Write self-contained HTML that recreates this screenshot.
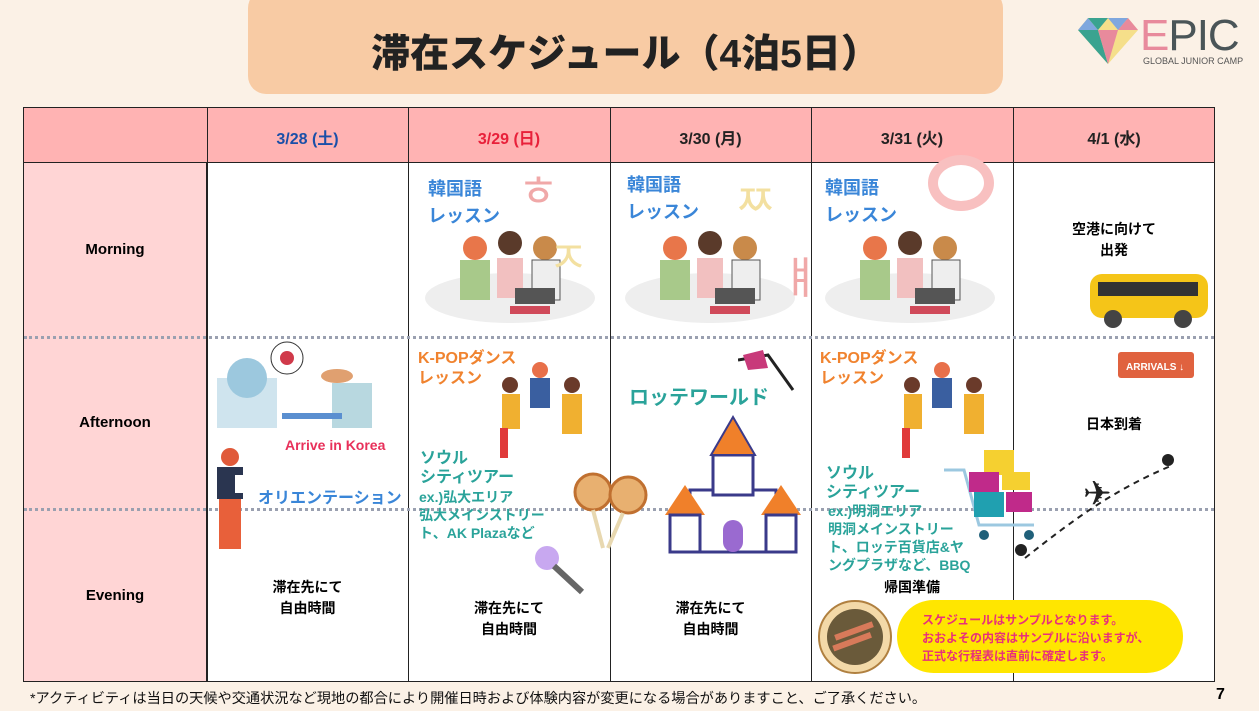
<!DOCTYPE html>
<html><head><meta charset="utf-8"><style>
*{margin:0;padding:0;box-sizing:border-box}
body{width:1259px;height:711px;background:#fbf1e6;position:relative;overflow:hidden;font-family:"Liberation Sans","Noto Sans CJK JP",sans-serif;font-weight:bold}
.a{position:absolute;white-space:nowrap}
.c{text-align:center}
.blue{color:#3a86d8}.or{color:#f0832f}.tl{color:#2aa39a}
</style></head><body>
<div class="a" style="left:248px;top:-10px;width:755px;height:104px;background:#f8cba4;border-radius:18px"></div>
<div class="a c" style="left:248px;top:23px;width:755px;font-size:39px;color:#222;font-weight:900">滞在スケジュール（4泊5日）</div>
<svg class="a" style="left:1078px;top:18px" width="60" height="46" viewBox="0 0 60 46">
<polygon points="0,12 10,0 50,0 60,12 30,46" fill="#f5df8a"/>
<polygon points="0,12 10,0 20,12" fill="#7fa7de"/><polygon points="40,12 50,0 60,12" fill="#e88a9c"/>
<polygon points="10,0 30,0 20,12" fill="#3aa390"/><polygon points="30,0 50,0 40,12" fill="#7fa7de"/>
<polygon points="0,12 20,12 30,46" fill="#3aa390"/><polygon points="20,12 40,12 30,46" fill="#e88a9c"/>
</svg>
<div class="a" style="left:1140px;top:12px;font-size:44px;font-weight:normal;line-height:48px;letter-spacing:-1px"><span style="color:#e88a9c">E</span><span style="color:#4a5558">PIC</span></div>
<div class="a" style="left:1143px;top:56px;font-size:9px;font-weight:normal;color:#555">GLOBAL JUNIOR CAMP</div>

<div class="a" style="left:23px;top:107px;width:1192px;height:575px;background:#fff;border:1px solid #222"></div>
<div class="a" style="left:23px;top:107px;width:1192px;height:56px;background:#ffb3b3;border:1px solid #222"></div>
<div class="a" style="left:23px;top:163px;width:184px;height:519px;background:#ffd5d5;border:1px solid #222;border-top:none"></div>
<div class="a" style="left:207px;top:107px;width:1px;height:575px;background:#222"></div>
<div class="a" style="left:408px;top:107px;width:1px;height:575px;background:#222"></div>
<div class="a" style="left:610px;top:107px;width:1px;height:575px;background:#222"></div>
<div class="a" style="left:811px;top:107px;width:1px;height:575px;background:#222"></div>
<div class="a" style="left:1013px;top:107px;width:1px;height:575px;background:#222"></div>
<div class="a" style="left:24px;top:336px;width:1190px;border-top:3px dotted #9aa0b0"></div>
<div class="a" style="left:24px;top:508px;width:1190px;border-top:3px dotted #9aa0b0"></div>

<div class="a c" style="left:207px;top:125px;width:201px;font-size:16px;color:#1a4fa8">3/28 (土)</div>
<div class="a c" style="left:408px;top:125px;width:202px;font-size:16px;color:#e8203a">3/29 (日)</div>
<div class="a c" style="left:610px;top:125px;width:201px;font-size:16px;color:#222">3/30 (月)</div>
<div class="a c" style="left:811px;top:125px;width:202px;font-size:16px;color:#222">3/31 (火)</div>
<div class="a c" style="left:1013px;top:125px;width:202px;font-size:16px;color:#222">4/1 (水)</div>
<div class="a c" style="left:23px;top:241px;width:184px;font-size:15px">Morning</div>
<div class="a c" style="left:23px;top:414px;width:184px;font-size:15px">Afternoon</div>
<div class="a c" style="left:23px;top:587px;width:184px;font-size:15px">Evening</div>

<div class="a blue" style="left:428px;top:176px;font-size:18px;line-height:27px">韓国語<br>レッスン</div>
<div class="a blue" style="left:627px;top:172px;font-size:18px;line-height:27px">韓国語<br>レッスン</div>
<div class="a blue" style="left:825px;top:175px;font-size:18px;line-height:27px">韓国語<br>レッスン</div>
<svg class="a" style="left:415px;top:228px" width="190" height="100"><ellipse cx="95" cy="70" rx="85" ry="25" fill="#eee"/><circle cx="60" cy="20" r="12" fill="#e8764a"/><circle cx="95" cy="15" r="12" fill="#5a3a2a"/><circle cx="130" cy="20" r="12" fill="#c98a4a"/><rect x="45" y="32" width="30" height="40" fill="#a8c98a"/><rect x="82" y="30" width="26" height="40" fill="#f2c0c0"/><rect x="117" y="32" width="28" height="40" fill="#eee" stroke="#555"/><rect x="100" y="60" width="40" height="16" fill="#555"/><rect x="95" y="78" width="40" height="8" fill="#d04a5a"/></svg>
<svg class="a" style="left:615px;top:228px" width="190" height="100"><ellipse cx="95" cy="70" rx="85" ry="25" fill="#eee"/><circle cx="60" cy="20" r="12" fill="#e8764a"/><circle cx="95" cy="15" r="12" fill="#5a3a2a"/><circle cx="130" cy="20" r="12" fill="#c98a4a"/><rect x="45" y="32" width="30" height="40" fill="#a8c98a"/><rect x="82" y="30" width="26" height="40" fill="#f2c0c0"/><rect x="117" y="32" width="28" height="40" fill="#eee" stroke="#555"/><rect x="100" y="60" width="40" height="16" fill="#555"/><rect x="95" y="78" width="40" height="8" fill="#d04a5a"/></svg>
<svg class="a" style="left:815px;top:228px" width="190" height="100"><ellipse cx="95" cy="70" rx="85" ry="25" fill="#eee"/><circle cx="60" cy="20" r="12" fill="#e8764a"/><circle cx="95" cy="15" r="12" fill="#5a3a2a"/><circle cx="130" cy="20" r="12" fill="#c98a4a"/><rect x="45" y="32" width="30" height="40" fill="#a8c98a"/><rect x="82" y="30" width="26" height="40" fill="#f2c0c0"/><rect x="117" y="32" width="28" height="40" fill="#eee" stroke="#555"/><rect x="100" y="60" width="40" height="16" fill="#555"/><rect x="95" y="78" width="40" height="8" fill="#d04a5a"/></svg>
<div class="a" style="left:518px;top:155px;font-size:44px;color:#f0a8a8;font-weight:normal">ㅎ</div>
<div class="a" style="left:548px;top:222px;font-size:44px;color:#f3e0a0;font-weight:normal">ㅈ</div>
<div class="a" style="left:735px;top:165px;font-size:44px;color:#f3e0a0;font-weight:normal">ㅉ</div>
<div class="a" style="left:780px;top:242px;font-size:44px;color:#f0a8a8;font-weight:normal">ㅒ</div>
<div class="a" style="left:928px;top:155px;width:66px;height:56px;border:10px solid #f8c0c0;border-radius:50%"></div>

<div class="a c" style="left:1013px;top:219px;width:202px;font-size:14px;line-height:21px">空港に向けて<br>出発</div>
<svg class="a" style="left:1088px;top:270px" width="124" height="60"><rect x="2" y="4" width="118" height="44" rx="12" fill="#f5c518"/><rect x="10" y="12" width="100" height="14" fill="#333"/><circle cx="25" cy="49" r="9" fill="#444"/><circle cx="95" cy="49" r="9" fill="#444"/></svg>
<svg class="a" style="left:1118px;top:348px" width="78" height="36"><rect x="0" y="4" width="76" height="26" rx="3" fill="#e0623f"/><text x="8" y="22" font-size="10" fill="#fff" font-family="Liberation Sans">ARRIVALS ↓</text></svg>
<div class="a c" style="left:1013px;top:414px;width:202px;font-size:14px">日本到着</div>
<svg class="a" style="left:1013px;top:450px" width="170" height="120"><path d="M12,108 C60,70 100,40 160,15" stroke="#222" stroke-width="2" stroke-dasharray="6,5" fill="none"/><text x="70" y="55" font-size="34" fill="#222" font-family="DejaVu Sans">✈</text><circle cx="8" cy="100" r="6" fill="#222"/><circle cx="155" cy="10" r="6" fill="#222"/></svg>

<svg class="a" style="left:212px;top:338px" width="190" height="95"><rect x="5" y="40" width="60" height="50" fill="#cfe4ee"/><circle cx="35" cy="40" r="20" fill="#9cc8de"/><rect x="120" y="45" width="40" height="45" fill="#b8d8e0"/><rect x="70" y="75" width="60" height="6" fill="#5a8fd0"/><circle cx="75" cy="20" r="16" fill="#fff" stroke="#333"/><circle cx="75" cy="20" r="7" fill="#d03a4a"/><ellipse cx="125" cy="38" rx="16" ry="7" fill="#e0a070"/></svg>
<div class="a" style="left:285px;top:437px;font-size:14px;color:#e8305a">Arrive in Korea</div>
<svg class="a" style="left:205px;top:445px" width="60" height="125"><circle cx="25" cy="12" r="9" fill="#e05a3a"/><rect x="12" y="22" width="26" height="32" fill="#2a3550"/><rect x="14" y="54" width="22" height="50" fill="#e8603a"/><rect x="30" y="30" width="14" height="18" fill="#fff"/></svg>
<div class="a blue" style="left:258px;top:484px;font-size:16px">オリエンテーション</div>
<div class="a c" style="left:207px;top:577px;width:201px;font-size:14px;line-height:21px">滞在先にて<br>自由時間</div>

<div class="a or" style="left:418px;top:349px;font-size:16px;line-height:20px">K-POPダンス<br>レッスン</div>
<svg class="a" style="left:490px;top:360px" width="110" height="100"><circle cx="20" cy="25" r="8" fill="#6a3a2a"/><rect x="12" y="34" width="18" height="35" fill="#f0b030"/><circle cx="50" cy="10" r="8" fill="#e8704a"/><rect x="40" y="18" width="20" height="30" fill="#3a5fa0"/><circle cx="82" cy="25" r="8" fill="#6a3a2a"/><rect x="72" y="34" width="20" height="40" fill="#f0b030"/><rect x="10" y="68" width="8" height="30" fill="#e03a3a"/></svg>
<div class="a tl" style="left:420px;top:449px;font-size:16px;line-height:19px">ソウル<br>シティツアー</div>
<div class="a tl" style="left:419px;top:488px;font-size:14px;line-height:18px">ex.)弘大エリア<br>弘大メインストリー<br>ト、AK Plazaなど</div>
<svg class="a" style="left:568px;top:470px" width="85" height="80"><circle cx="25" cy="22" r="18" fill="#e8b070" stroke="#c07030" stroke-width="3"/><circle cx="60" cy="25" r="18" fill="#e8b070" stroke="#c07030" stroke-width="3"/><line x1="25" y1="40" x2="35" y2="78" stroke="#e8d8b0" stroke-width="4"/><line x1="55" y1="43" x2="40" y2="78" stroke="#e8d8b0" stroke-width="4"/></svg>
<svg class="a" style="left:532px;top:540px" width="60" height="60"><circle cx="15" cy="18" r="12" fill="#c8a8f0"/><line x1="22" y1="26" x2="50" y2="52" stroke="#666" stroke-width="6"/></svg>
<div class="a c" style="left:408px;top:598px;width:202px;font-size:14px;line-height:21px">滞在先にて<br>自由時間</div>

<div class="a tl" style="left:629px;top:381px;font-size:20px">ロッテワールド</div>
<svg class="a" style="left:738px;top:350px" width="60" height="45"><path d="M0,10 L30,5 L55,40" stroke="#222" stroke-width="3" fill="none"/><polygon points="5,5 25,0 30,18 10,20" fill="#c83a7a"/></svg>
<svg class="a" style="left:665px;top:415px" width="136" height="140"><rect x="25" y="75" width="86" height="62" fill="#fff" stroke="#3a3a8a" stroke-width="3"/><rect x="48" y="40" width="40" height="40" fill="#fff" stroke="#3a3a8a" stroke-width="3"/><polygon points="46,40 68,2 90,40" fill="#f0802a" stroke="#3a3a8a" stroke-width="2"/><polygon points="0,100 20,70 40,100" fill="#f0802a"/><polygon points="96,100 116,70 136,100" fill="#f0802a"/><rect x="5" y="100" width="30" height="37" fill="#fff" stroke="#3a3a8a" stroke-width="3"/><rect x="101" y="100" width="30" height="37" fill="#fff" stroke="#3a3a8a" stroke-width="3"/><rect x="58" y="105" width="20" height="32" rx="10" fill="#9a6ad0"/></svg>
<div class="a c" style="left:610px;top:598px;width:201px;font-size:14px;line-height:21px">滞在先にて<br>自由時間</div>

<div class="a or" style="left:820px;top:349px;font-size:16px;line-height:20px">K-POPダンス<br>レッスン</div>
<svg class="a" style="left:892px;top:360px" width="110" height="100"><circle cx="20" cy="25" r="8" fill="#6a3a2a"/><rect x="12" y="34" width="18" height="35" fill="#f0b030"/><circle cx="50" cy="10" r="8" fill="#e8704a"/><rect x="40" y="18" width="20" height="30" fill="#3a5fa0"/><circle cx="82" cy="25" r="8" fill="#6a3a2a"/><rect x="72" y="34" width="20" height="40" fill="#f0b030"/><rect x="10" y="68" width="8" height="30" fill="#e03a3a"/></svg>
<div class="a tl" style="left:826px;top:464px;font-size:16px;line-height:19px">ソウル<br>シティツアー</div>
<div class="a tl" style="left:828px;top:502px;font-size:14px;line-height:18px">ex.)明洞エリア<br>明洞メインストリー<br>ト、ロッテ百貨店&amp;ヤ<br>ングプラザなど、BBQ</div>
<svg class="a" style="left:944px;top:450px" width="100" height="100"><rect x="40" y="0" width="30" height="25" fill="#f5d030"/><path d="M0,20 L20,20 L35,75 L90,75" stroke="#9cc8e0" stroke-width="3" fill="none"/><rect x="25" y="22" width="30" height="20" fill="#c02a8a"/><rect x="58" y="22" width="28" height="18" fill="#f5d030"/><rect x="30" y="42" width="30" height="25" fill="#20a0b0"/><rect x="62" y="42" width="26" height="20" fill="#c02a8a"/><circle cx="40" cy="85" r="5" fill="#20607a"/><circle cx="85" cy="85" r="5" fill="#20607a"/></svg>
<div class="a c" style="left:811px;top:577px;width:202px;font-size:14px">帰国準備</div>
<svg class="a" style="left:814px;top:600px" width="82" height="74"><circle cx="41" cy="37" r="36" fill="#f3d9a8" stroke="#b08040" stroke-width="2"/><circle cx="41" cy="37" r="28" fill="#6a5a3a"/><rect x="20" y="28" width="40" height="6" fill="#d87a5a" transform="rotate(-20 40 31)"/><rect x="18" y="38" width="40" height="6" fill="#d87a5a" transform="rotate(-20 40 41)"/></svg>
<div class="a" style="left:897px;top:600px;width:286px;height:73px;background:#ffe600;border-radius:37px"></div>
<div class="a" style="left:922px;top:611px;font-size:12px;line-height:18px;color:#e8307a">スケジュールはサンプルとなります。<br>おおよその内容はサンプルに沿いますが、<br>正式な行程表は直前に確定します。</div>

<div class="a" style="left:30px;top:688px;font-size:14.2px;font-weight:normal;color:#111">*アクティビティは当日の天候や交通状況など現地の都合により開催日時および体験内容が変更になる場合がありますこと、ご了承ください。</div>
<div class="a" style="left:1216px;top:686px;font-size:16px">7</div>
</body></html>
